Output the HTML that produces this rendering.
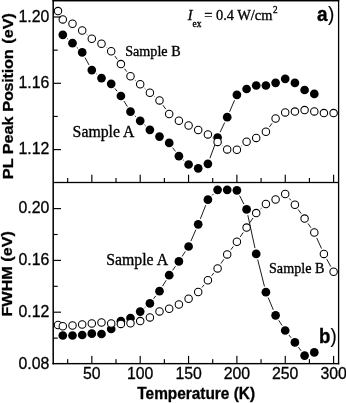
<!DOCTYPE html>
<html><head><meta charset="utf-8"><title>PL peak position and FWHM vs temperature</title>
<style>html,body{margin:0;padding:0;background:#fff;}svg{display:block;will-change:transform;filter:grayscale(1);}</style></head>
<body>
<svg width="346" height="403" viewBox="0 0 346 403">
<g>
<line x1="67.29" y1="38.67" x2="68.06" y2="39.33" stroke="#000" stroke-width="0.9"/>
<line x1="76.78" y1="47.27" x2="77.91" y2="48.33" stroke="#000" stroke-width="0.9"/>
<line x1="85.01" y1="57.58" x2="89.02" y2="64.92" stroke="#000" stroke-width="0.9"/>
<line x1="96.40" y1="73.86" x2="96.97" y2="74.34" stroke="#000" stroke-width="0.9"/>
<line x1="114.85" y1="88.42" x2="117.20" y2="91.38" stroke="#000" stroke-width="0.9"/>
<line x1="123.95" y1="101.02" x2="127.44" y2="106.68" stroke="#000" stroke-width="0.9"/>
<line x1="134.83" y1="115.74" x2="135.90" y2="116.76" stroke="#000" stroke-width="0.9"/>
<line x1="144.52" y1="124.82" x2="145.55" y2="125.78" stroke="#000" stroke-width="0.9"/>
<line x1="172.68" y1="147.67" x2="175.41" y2="151.43" stroke="#000" stroke-width="0.9"/>
<line x1="183.36" y1="160.04" x2="184.07" y2="160.66" stroke="#000" stroke-width="0.9"/>
<line x1="209.93" y1="158.26" x2="215.52" y2="143.04" stroke="#000" stroke-width="0.9"/>
<line x1="220.10" y1="132.17" x2="224.69" y2="122.53" stroke="#000" stroke-width="0.9"/>
<line x1="229.57" y1="111.78" x2="234.56" y2="100.22" stroke="#000" stroke-width="0.9"/>
<circle cx="62.8" cy="34.8" r="4.35" fill="#000"/>
<circle cx="72.5" cy="43.2" r="4.35" fill="#000"/>
<circle cx="82.2" cy="52.4" r="4.35" fill="#000"/>
<circle cx="91.8" cy="70.1" r="4.35" fill="#000"/>
<circle cx="101.5" cy="78.1" r="4.35" fill="#000"/>
<circle cx="111.2" cy="83.8" r="4.35" fill="#000"/>
<circle cx="120.9" cy="96.0" r="4.35" fill="#000"/>
<circle cx="130.5" cy="111.7" r="4.35" fill="#000"/>
<circle cx="140.2" cy="120.8" r="4.35" fill="#000"/>
<circle cx="149.9" cy="129.8" r="4.35" fill="#000"/>
<circle cx="159.5" cy="136.6" r="4.35" fill="#000"/>
<circle cx="169.2" cy="142.9" r="4.35" fill="#000"/>
<circle cx="178.9" cy="156.2" r="4.35" fill="#000"/>
<circle cx="188.6" cy="164.5" r="4.35" fill="#000"/>
<circle cx="198.2" cy="168.3" r="4.35" fill="#000"/>
<circle cx="207.9" cy="163.8" r="4.35" fill="#000"/>
<circle cx="217.6" cy="137.5" r="4.35" fill="#000"/>
<circle cx="227.2" cy="117.2" r="4.35" fill="#000"/>
<circle cx="236.9" cy="94.8" r="4.35" fill="#000"/>
<circle cx="246.6" cy="89.0" r="4.35" fill="#000"/>
<circle cx="256.2" cy="85.5" r="4.35" fill="#000"/>
<circle cx="265.9" cy="85.5" r="4.35" fill="#000"/>
<circle cx="275.6" cy="82.8" r="4.35" fill="#000"/>
<circle cx="285.2" cy="78.8" r="4.35" fill="#000"/>
<circle cx="294.9" cy="82.9" r="4.35" fill="#000"/>
<circle cx="304.6" cy="90.0" r="4.35" fill="#000"/>
<circle cx="314.3" cy="93.9" r="4.35" fill="#000"/>
<line x1="86.66" y1="34.34" x2="87.37" y2="34.96" stroke="#000" stroke-width="0.9"/>
<line x1="106.18" y1="47.32" x2="106.53" y2="47.58" stroke="#000" stroke-width="0.9"/>
<line x1="114.73" y1="55.92" x2="117.32" y2="59.38" stroke="#000" stroke-width="0.9"/>
<line x1="124.52" y1="68.72" x2="126.87" y2="71.68" stroke="#000" stroke-width="0.9"/>
<line x1="135.08" y1="80.06" x2="135.65" y2="80.54" stroke="#000" stroke-width="0.9"/>
<line x1="144.65" y1="88.17" x2="145.42" y2="88.83" stroke="#000" stroke-width="0.9"/>
<line x1="154.49" y1="96.38" x2="154.92" y2="96.72" stroke="#000" stroke-width="0.9"/>
<line x1="162.96" y1="105.21" x2="165.79" y2="109.19" stroke="#000" stroke-width="0.9"/>
<line x1="212.55" y1="138.02" x2="212.90" y2="138.28" stroke="#000" stroke-width="0.9"/>
<line x1="222.22" y1="145.52" x2="222.57" y2="145.78" stroke="#000" stroke-width="0.9"/>
<line x1="241.47" y1="145.97" x2="242.00" y2="145.53" stroke="#000" stroke-width="0.9"/>
<line x1="269.40" y1="126.94" x2="272.09" y2="123.26" stroke="#000" stroke-width="0.9"/>
<circle cx="58.0" cy="11.1" r="3.72" fill="#fff" stroke="#000" stroke-width="1.05"/>
<circle cx="62.8" cy="19.4" r="3.72" fill="#fff" stroke="#000" stroke-width="1.05"/>
<circle cx="72.5" cy="23.7" r="3.72" fill="#fff" stroke="#000" stroke-width="1.05"/>
<circle cx="82.2" cy="30.5" r="3.72" fill="#fff" stroke="#000" stroke-width="1.05"/>
<circle cx="91.8" cy="38.8" r="3.72" fill="#fff" stroke="#000" stroke-width="1.05"/>
<circle cx="101.5" cy="43.7" r="3.72" fill="#fff" stroke="#000" stroke-width="1.05"/>
<circle cx="111.2" cy="51.2" r="3.72" fill="#fff" stroke="#000" stroke-width="1.05"/>
<circle cx="120.9" cy="64.1" r="3.72" fill="#fff" stroke="#000" stroke-width="1.05"/>
<circle cx="130.5" cy="76.3" r="3.72" fill="#fff" stroke="#000" stroke-width="1.05"/>
<circle cx="140.2" cy="84.3" r="3.72" fill="#fff" stroke="#000" stroke-width="1.05"/>
<circle cx="149.9" cy="92.7" r="3.72" fill="#fff" stroke="#000" stroke-width="1.05"/>
<circle cx="159.5" cy="100.4" r="3.72" fill="#fff" stroke="#000" stroke-width="1.05"/>
<circle cx="169.2" cy="114.0" r="3.72" fill="#fff" stroke="#000" stroke-width="1.05"/>
<circle cx="178.9" cy="120.8" r="3.72" fill="#fff" stroke="#000" stroke-width="1.05"/>
<circle cx="188.6" cy="125.5" r="3.72" fill="#fff" stroke="#000" stroke-width="1.05"/>
<circle cx="198.2" cy="130.0" r="3.72" fill="#fff" stroke="#000" stroke-width="1.05"/>
<circle cx="207.9" cy="134.4" r="3.72" fill="#fff" stroke="#000" stroke-width="1.05"/>
<circle cx="217.6" cy="141.9" r="3.72" fill="#fff" stroke="#000" stroke-width="1.05"/>
<circle cx="227.2" cy="149.4" r="3.72" fill="#fff" stroke="#000" stroke-width="1.05"/>
<circle cx="236.9" cy="149.7" r="3.72" fill="#fff" stroke="#000" stroke-width="1.05"/>
<circle cx="246.6" cy="141.8" r="3.72" fill="#fff" stroke="#000" stroke-width="1.05"/>
<circle cx="256.2" cy="137.9" r="3.72" fill="#fff" stroke="#000" stroke-width="1.05"/>
<circle cx="265.9" cy="131.7" r="3.72" fill="#fff" stroke="#000" stroke-width="1.05"/>
<circle cx="275.6" cy="118.5" r="3.72" fill="#fff" stroke="#000" stroke-width="1.05"/>
<circle cx="285.2" cy="112.4" r="3.72" fill="#fff" stroke="#000" stroke-width="1.05"/>
<circle cx="294.9" cy="111.6" r="3.72" fill="#fff" stroke="#000" stroke-width="1.05"/>
<circle cx="304.6" cy="110.1" r="3.72" fill="#fff" stroke="#000" stroke-width="1.05"/>
<circle cx="314.3" cy="111.4" r="3.72" fill="#fff" stroke="#000" stroke-width="1.05"/>
<circle cx="323.9" cy="113.1" r="3.72" fill="#fff" stroke="#000" stroke-width="1.05"/>
<circle cx="333.6" cy="113.1" r="3.72" fill="#fff" stroke="#000" stroke-width="1.05"/>
<line x1="115.78" y1="325.30" x2="116.27" y2="324.90" stroke="#000" stroke-width="0.9"/>
<line x1="144.70" y1="307.78" x2="145.37" y2="307.22" stroke="#000" stroke-width="0.9"/>
<line x1="153.53" y1="298.78" x2="155.88" y2="295.82" stroke="#000" stroke-width="0.9"/>
<line x1="162.59" y1="286.15" x2="166.16" y2="280.25" stroke="#000" stroke-width="0.9"/>
<line x1="172.60" y1="270.37" x2="175.49" y2="266.23" stroke="#000" stroke-width="0.9"/>
<line x1="182.09" y1="256.45" x2="185.34" y2="251.45" stroke="#000" stroke-width="0.9"/>
<line x1="190.91" y1="241.09" x2="195.86" y2="229.71" stroke="#000" stroke-width="0.9"/>
<line x1="200.38" y1="218.81" x2="205.73" y2="205.19" stroke="#000" stroke-width="0.9"/>
<line x1="212.01" y1="195.48" x2="213.44" y2="194.02" stroke="#000" stroke-width="0.9"/>
<line x1="239.56" y1="195.56" x2="243.91" y2="204.14" stroke="#000" stroke-width="0.9"/>
<line x1="247.82" y1="215.17" x2="254.99" y2="248.13" stroke="#000" stroke-width="0.9"/>
<line x1="257.68" y1="259.62" x2="264.47" y2="286.48" stroke="#000" stroke-width="0.9"/>
<line x1="268.19" y1="297.64" x2="273.30" y2="309.86" stroke="#000" stroke-width="0.9"/>
<line x1="278.75" y1="320.28" x2="282.08" y2="325.52" stroke="#000" stroke-width="0.9"/>
<line x1="288.97" y1="335.08" x2="291.20" y2="337.82" stroke="#000" stroke-width="0.9"/>
<line x1="298.41" y1="347.16" x2="301.10" y2="350.84" stroke="#000" stroke-width="0.9"/>
<circle cx="62.8" cy="335.5" r="4.35" fill="#000"/>
<circle cx="72.5" cy="335.5" r="4.35" fill="#000"/>
<circle cx="82.2" cy="335.0" r="4.35" fill="#000"/>
<circle cx="91.8" cy="333.7" r="4.35" fill="#000"/>
<circle cx="101.5" cy="334.0" r="4.35" fill="#000"/>
<circle cx="111.2" cy="329.0" r="4.35" fill="#000"/>
<circle cx="120.9" cy="321.2" r="4.35" fill="#000"/>
<circle cx="130.5" cy="318.1" r="4.35" fill="#000"/>
<circle cx="140.2" cy="311.6" r="4.35" fill="#000"/>
<circle cx="149.9" cy="303.4" r="4.35" fill="#000"/>
<circle cx="159.5" cy="291.2" r="4.35" fill="#000"/>
<circle cx="169.2" cy="275.2" r="4.35" fill="#000"/>
<circle cx="178.9" cy="261.4" r="4.35" fill="#000"/>
<circle cx="188.6" cy="246.5" r="4.35" fill="#000"/>
<circle cx="198.2" cy="224.3" r="4.35" fill="#000"/>
<circle cx="207.9" cy="199.7" r="4.35" fill="#000"/>
<circle cx="217.6" cy="189.8" r="4.35" fill="#000"/>
<circle cx="227.2" cy="189.8" r="4.35" fill="#000"/>
<circle cx="236.9" cy="190.3" r="4.35" fill="#000"/>
<circle cx="246.6" cy="209.4" r="4.35" fill="#000"/>
<circle cx="256.2" cy="253.9" r="4.35" fill="#000"/>
<circle cx="265.9" cy="292.2" r="4.35" fill="#000"/>
<circle cx="275.6" cy="315.3" r="4.35" fill="#000"/>
<circle cx="285.2" cy="330.5" r="4.35" fill="#000"/>
<circle cx="294.9" cy="342.4" r="4.35" fill="#000"/>
<circle cx="304.6" cy="355.6" r="4.35" fill="#000"/>
<circle cx="314.3" cy="352.4" r="4.35" fill="#000"/>
<line x1="201.98" y1="287.45" x2="204.13" y2="284.85" stroke="#000" stroke-width="0.9"/>
<line x1="211.61" y1="275.72" x2="213.84" y2="272.98" stroke="#000" stroke-width="0.9"/>
<line x1="220.91" y1="263.55" x2="223.88" y2="259.25" stroke="#000" stroke-width="0.9"/>
<line x1="230.82" y1="249.72" x2="233.31" y2="246.48" stroke="#000" stroke-width="0.9"/>
<line x1="240.22" y1="236.92" x2="243.25" y2="232.48" stroke="#000" stroke-width="0.9"/>
<line x1="249.84" y1="222.69" x2="252.97" y2="218.01" stroke="#000" stroke-width="0.9"/>
<line x1="260.54" y1="209.06" x2="261.61" y2="208.04" stroke="#000" stroke-width="0.9"/>
<line x1="289.21" y1="198.38" x2="290.96" y2="200.32" stroke="#000" stroke-width="0.9"/>
<line x1="298.29" y1="209.54" x2="301.22" y2="213.76" stroke="#000" stroke-width="0.9"/>
<line x1="307.96" y1="223.44" x2="310.89" y2="227.66" stroke="#000" stroke-width="0.9"/>
<line x1="316.69" y1="237.88" x2="321.50" y2="248.52" stroke="#000" stroke-width="0.9"/>
<line x1="326.73" y1="259.09" x2="330.80" y2="266.61" stroke="#000" stroke-width="0.9"/>
<circle cx="58.0" cy="325.0" r="3.72" fill="#fff" stroke="#000" stroke-width="1.05"/>
<circle cx="62.8" cy="326.3" r="3.72" fill="#fff" stroke="#000" stroke-width="1.05"/>
<circle cx="72.5" cy="325.5" r="3.72" fill="#fff" stroke="#000" stroke-width="1.05"/>
<circle cx="82.2" cy="324.5" r="3.72" fill="#fff" stroke="#000" stroke-width="1.05"/>
<circle cx="91.8" cy="323.5" r="3.72" fill="#fff" stroke="#000" stroke-width="1.05"/>
<circle cx="101.5" cy="322.5" r="3.72" fill="#fff" stroke="#000" stroke-width="1.05"/>
<circle cx="111.2" cy="323.5" r="3.72" fill="#fff" stroke="#000" stroke-width="1.05"/>
<circle cx="120.9" cy="323.9" r="3.72" fill="#fff" stroke="#000" stroke-width="1.05"/>
<circle cx="130.5" cy="323.3" r="3.72" fill="#fff" stroke="#000" stroke-width="1.05"/>
<circle cx="140.2" cy="321.1" r="3.72" fill="#fff" stroke="#000" stroke-width="1.05"/>
<circle cx="149.9" cy="317.4" r="3.72" fill="#fff" stroke="#000" stroke-width="1.05"/>
<circle cx="159.5" cy="311.4" r="3.72" fill="#fff" stroke="#000" stroke-width="1.05"/>
<circle cx="169.2" cy="308.7" r="3.72" fill="#fff" stroke="#000" stroke-width="1.05"/>
<circle cx="178.9" cy="304.5" r="3.72" fill="#fff" stroke="#000" stroke-width="1.05"/>
<circle cx="188.6" cy="298.8" r="3.72" fill="#fff" stroke="#000" stroke-width="1.05"/>
<circle cx="198.2" cy="292.0" r="3.72" fill="#fff" stroke="#000" stroke-width="1.05"/>
<circle cx="207.9" cy="280.3" r="3.72" fill="#fff" stroke="#000" stroke-width="1.05"/>
<circle cx="217.6" cy="268.4" r="3.72" fill="#fff" stroke="#000" stroke-width="1.05"/>
<circle cx="227.2" cy="254.4" r="3.72" fill="#fff" stroke="#000" stroke-width="1.05"/>
<circle cx="236.9" cy="241.8" r="3.72" fill="#fff" stroke="#000" stroke-width="1.05"/>
<circle cx="246.6" cy="227.6" r="3.72" fill="#fff" stroke="#000" stroke-width="1.05"/>
<circle cx="256.2" cy="213.1" r="3.72" fill="#fff" stroke="#000" stroke-width="1.05"/>
<circle cx="265.9" cy="204.0" r="3.72" fill="#fff" stroke="#000" stroke-width="1.05"/>
<circle cx="275.6" cy="199.5" r="3.72" fill="#fff" stroke="#000" stroke-width="1.05"/>
<circle cx="285.2" cy="194.0" r="3.72" fill="#fff" stroke="#000" stroke-width="1.05"/>
<circle cx="294.9" cy="204.7" r="3.72" fill="#fff" stroke="#000" stroke-width="1.05"/>
<circle cx="304.6" cy="218.6" r="3.72" fill="#fff" stroke="#000" stroke-width="1.05"/>
<circle cx="314.3" cy="232.5" r="3.72" fill="#fff" stroke="#000" stroke-width="1.05"/>
<circle cx="323.9" cy="253.9" r="3.72" fill="#fff" stroke="#000" stroke-width="1.05"/>
<circle cx="333.6" cy="271.8" r="3.72" fill="#fff" stroke="#000" stroke-width="1.05"/>
</g>
<rect x="52.45" y="0.00" width="1.50" height="364.35" fill="#000"/>
<rect x="337.95" y="0.00" width="1.30" height="364.35" fill="#000"/>
<rect x="52.45" y="0.00" width="286.80" height="1.45" fill="#000"/>
<rect x="52.45" y="362.95" width="286.80" height="1.40" fill="#000"/>
<rect x="53.20" y="181.85" width="285.40" height="1.30" fill="#000"/>
<rect x="67.10" y="178.00" width="1.15" height="4.50" fill="#000"/>
<rect x="67.10" y="359.15" width="1.15" height="4.50" fill="#000"/>
<rect x="91.27" y="174.70" width="1.15" height="7.80" fill="#000"/>
<rect x="91.27" y="355.85" width="1.15" height="7.80" fill="#000"/>
<rect x="115.45" y="178.00" width="1.15" height="4.50" fill="#000"/>
<rect x="115.45" y="359.15" width="1.15" height="4.50" fill="#000"/>
<rect x="139.62" y="174.70" width="1.15" height="7.80" fill="#000"/>
<rect x="139.62" y="355.85" width="1.15" height="7.80" fill="#000"/>
<rect x="163.80" y="178.00" width="1.15" height="4.50" fill="#000"/>
<rect x="163.80" y="359.15" width="1.15" height="4.50" fill="#000"/>
<rect x="187.98" y="174.70" width="1.15" height="7.80" fill="#000"/>
<rect x="187.98" y="355.85" width="1.15" height="7.80" fill="#000"/>
<rect x="212.15" y="178.00" width="1.15" height="4.50" fill="#000"/>
<rect x="212.15" y="359.15" width="1.15" height="4.50" fill="#000"/>
<rect x="236.32" y="174.70" width="1.15" height="7.80" fill="#000"/>
<rect x="236.32" y="355.85" width="1.15" height="7.80" fill="#000"/>
<rect x="260.50" y="178.00" width="1.15" height="4.50" fill="#000"/>
<rect x="260.50" y="359.15" width="1.15" height="4.50" fill="#000"/>
<rect x="284.68" y="174.70" width="1.15" height="7.80" fill="#000"/>
<rect x="284.68" y="355.85" width="1.15" height="7.80" fill="#000"/>
<rect x="308.85" y="178.00" width="1.15" height="4.50" fill="#000"/>
<rect x="308.85" y="359.15" width="1.15" height="4.50" fill="#000"/>
<rect x="333.03" y="174.70" width="1.15" height="7.80" fill="#000"/>
<rect x="333.03" y="355.85" width="1.15" height="7.80" fill="#000"/>
<rect x="53.20" y="16.43" width="7.80" height="1.15" fill="#000"/>
<rect x="53.20" y="49.57" width="4.50" height="1.15" fill="#000"/>
<rect x="53.20" y="82.72" width="7.80" height="1.15" fill="#000"/>
<rect x="53.20" y="115.87" width="4.50" height="1.15" fill="#000"/>
<rect x="53.20" y="149.03" width="7.80" height="1.15" fill="#000"/>
<rect x="53.20" y="337.53" width="4.50" height="1.15" fill="#000"/>
<rect x="53.20" y="311.62" width="7.80" height="1.15" fill="#000"/>
<rect x="53.20" y="285.73" width="4.50" height="1.15" fill="#000"/>
<rect x="53.20" y="259.82" width="7.80" height="1.15" fill="#000"/>
<rect x="53.20" y="233.93" width="4.50" height="1.15" fill="#000"/>
<rect x="53.20" y="208.03" width="7.80" height="1.15" fill="#000"/>
<text transform="translate(49.3,21.5) scale(1,0.995)" text-anchor="end" font-size="15.85" stroke="#000" stroke-width="0.3" font-family="Liberation Sans, Arial, Helvetica, sans-serif">1.20</text>
<text transform="translate(49.3,87.8) scale(1,0.995)" text-anchor="end" font-size="15.85" stroke="#000" stroke-width="0.3" font-family="Liberation Sans, Arial, Helvetica, sans-serif">1.16</text>
<text transform="translate(49.3,154.1) scale(1,0.995)" text-anchor="end" font-size="15.85" stroke="#000" stroke-width="0.3" font-family="Liberation Sans, Arial, Helvetica, sans-serif">1.12</text>
<text transform="translate(49.3,213.1) scale(1,0.995)" text-anchor="end" font-size="15.85" stroke="#000" stroke-width="0.3" font-family="Liberation Sans, Arial, Helvetica, sans-serif">0.20</text>
<text transform="translate(49.3,264.9) scale(1,0.995)" text-anchor="end" font-size="15.85" stroke="#000" stroke-width="0.3" font-family="Liberation Sans, Arial, Helvetica, sans-serif">0.16</text>
<text transform="translate(49.3,316.7) scale(1,0.995)" text-anchor="end" font-size="15.85" stroke="#000" stroke-width="0.3" font-family="Liberation Sans, Arial, Helvetica, sans-serif">0.12</text>
<text transform="translate(49.3,368.5) scale(1,0.995)" text-anchor="end" font-size="15.85" stroke="#000" stroke-width="0.3" font-family="Liberation Sans, Arial, Helvetica, sans-serif">0.08</text>
<text transform="translate(91.8,379.3) scale(1,0.995)" text-anchor="middle" font-size="15.85" stroke="#000" stroke-width="0.3" font-family="Liberation Sans, Arial, Helvetica, sans-serif">50</text>
<text transform="translate(140.2,379.3) scale(1,0.995)" text-anchor="middle" font-size="15.85" stroke="#000" stroke-width="0.3" font-family="Liberation Sans, Arial, Helvetica, sans-serif">100</text>
<text transform="translate(188.6,379.3) scale(1,0.995)" text-anchor="middle" font-size="15.85" stroke="#000" stroke-width="0.3" font-family="Liberation Sans, Arial, Helvetica, sans-serif">150</text>
<text transform="translate(236.9,379.3) scale(1,0.995)" text-anchor="middle" font-size="15.85" stroke="#000" stroke-width="0.3" font-family="Liberation Sans, Arial, Helvetica, sans-serif">200</text>
<text transform="translate(285.2,379.3) scale(1,0.995)" text-anchor="middle" font-size="15.85" stroke="#000" stroke-width="0.3" font-family="Liberation Sans, Arial, Helvetica, sans-serif">250</text>
<text transform="translate(333.6,379.3) scale(1,0.995)" text-anchor="middle" font-size="15.85" stroke="#000" stroke-width="0.3" font-family="Liberation Sans, Arial, Helvetica, sans-serif">300</text>
<text transform="translate(196.2,398.9) scale(1,1.04)" text-anchor="middle" font-size="15.4" font-weight="bold" stroke="#000" stroke-width="0.3" font-family="Liberation Sans, Arial, Helvetica, sans-serif">Temperature (K)</text>
<g transform="translate(12.6,96.1) rotate(-90) scale(1,0.955)" font-size="16.2" font-weight="bold" stroke="#000" stroke-width="0.3" font-family="Liberation Sans, Arial, Helvetica, sans-serif"><text x="-83.07">PL Peak</text><text x="-15.6" textLength="62.3" lengthAdjust="spacing">Position</text><text x="52.46">(eV)</text></g>
<text transform="translate(12.3,273.8) rotate(-90) scale(1,0.955)" text-anchor="middle" font-size="16.2" font-weight="bold" stroke="#000" stroke-width="0.3" font-family="Liberation Sans, Arial, Helvetica, sans-serif">FWHM (eV)</text>
<text transform="translate(317.1,20.7) scale(0.95,1)" font-size="20" stroke="#000" stroke-width="0.35" font-family="Liberation Sans, Arial, Helvetica, sans-serif"><tspan font-weight="bold">a</tspan><tspan dx="0.4" stroke-width="0.15">)</tspan></text>
<text transform="translate(319.1,342.8) scale(0.95,1)" font-size="19.6" stroke="#000" stroke-width="0.35" font-family="Liberation Sans, Arial, Helvetica, sans-serif"><tspan font-weight="bold">b</tspan><tspan stroke-width="0.15">)</tspan></text>
<text x="125.2" y="56.3" font-size="14.15" stroke="#000" stroke-width="0.33" font-family="Liberation Serif, Times New Roman, serif">Sample B</text>
<text x="72.6" y="136.6" font-size="15.8" stroke="#000" stroke-width="0.33" font-family="Liberation Serif, Times New Roman, serif">Sample A</text>
<text x="106.2" y="264.6" font-size="15.8" stroke="#000" stroke-width="0.33" font-family="Liberation Serif, Times New Roman, serif">Sample A</text>
<text x="269" y="273.2" font-size="14.15" stroke="#000" stroke-width="0.33" font-family="Liberation Serif, Times New Roman, serif">Sample B</text>
<text transform="translate(187.7,20.4) scale(1,1.02)" font-size="14.4" stroke="#000" stroke-width="0.33" font-family="Liberation Serif, Times New Roman, serif"><tspan font-style="italic">I</tspan><tspan font-size="9.4" dy="6.2">ex</tspan><tspan dy="-6.2" dx="-0.7"> = 0.4 W/cm</tspan><tspan font-size="9.2" dy="-7.4" dx="0.5">2</tspan></text>
</svg>
</body></html>
